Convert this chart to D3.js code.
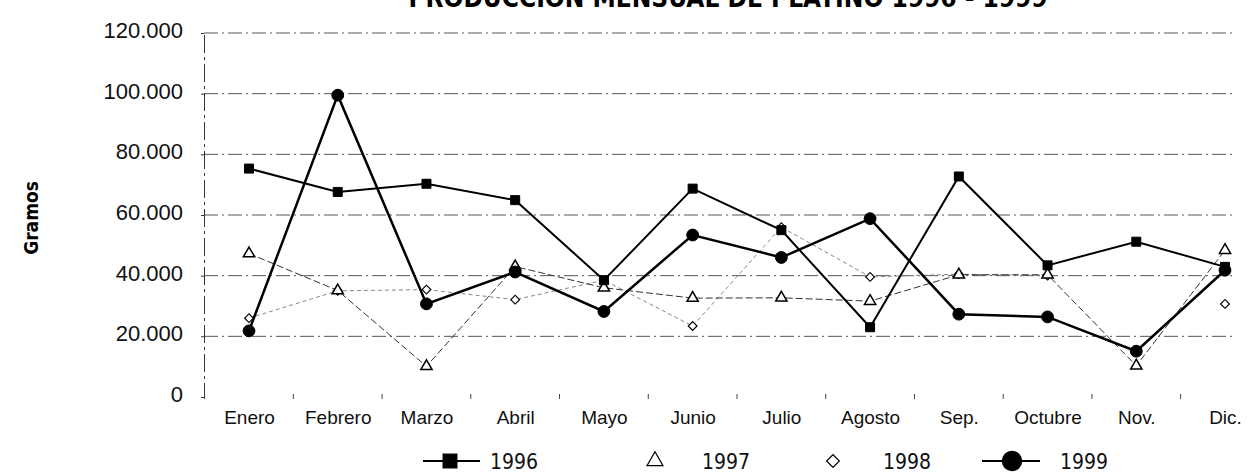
<!DOCTYPE html>
<html>
<head>
<meta charset="utf-8">
<script src="https://cdn.jsdelivr.net/npm/d3@7"></script>
<style>
  body { margin: 0; background: #fff; }
  svg { display: block; font-family: "DejaVu Sans", sans-serif; font-stretch: condensed; }
</style>
</head>
<body>
<div id="chart"></div>
<script>
// Monthly platinum production 1996-1999 (grams)
const months = ['Enero', 'Febrero', 'Marzo', 'Abril', 'Mayo', 'Junio', 'Julio', 'Agosto', 'Sep.', 'Octubre', 'Nov.', 'Dic.'];
const yTicks = [0, 20000, 40000, 60000, 80000, 100000, 120000];

const values1996 = [75300, 67600, 70300, 64900, 38500, 68700, 55000, 23000, 72700, 43400, 51200, 42900];
const values1997 = [47300, 35100, 10100, 43000, 36000, 32600, 32700, 31600, 40300, 40300, 10300, 48400];
const values1998 = [26000, 35000, 35400, 32100, 38500, 23400, 56000, 39600, 40500, 40000, null, 30700];
const values1999 = [21800, 99500, 30700, 41200, 28200, 53400, 46000, 58800, 27300, 26400, 15100, 41800];

const width = 1250, height = 475;
const margin = { top: 33, right: 25, bottom: 78, left: 204 };

const svg = d3.select('#chart')
    .append('svg')
    .attr('width', width)
    .attr('height', height);

const x = d3.scalePoint()
    .domain(months)
    .range([249, 1225]);

const y = d3.scaleLinear()
    .domain([0, 120000])
    .range([height - margin.bottom, margin.top]);

const fmt = d => d === 0 ? '0' : d3.format(',')(d).replace(/,/g, '.');

// Title (cut off at the top, as in the scan)
svg.append('text')
    .attr('x', 728)
    .attr('y', 7)
    .attr('text-anchor', 'middle')
    .attr('font-size', '26px')
    .attr('font-weight', 'bold')
    .text('PRODUCCION MENSUAL DE PLATINO 1996 - 1999');

// Gridlines (dash-dot)
svg.append('g')
    .selectAll('line')
    .data(yTicks.filter(d => d > 0))
    .enter()
    .append('line')
    .attr('x1', margin.left)
    .attr('x2', 1232)
    .attr('y1', d => y(d))
    .attr('y2', d => y(d))
    .attr('stroke', '#555')
    .attr('stroke-width', 1)
    .attr('stroke-dasharray', '14,4,2,4');

// Y axis
const yAxis = d3.axisLeft(y)
    .tickValues(yTicks)
    .tickSize(3)
    .tickPadding(18)
    .tickFormat(fmt);

const yg = svg.append('g')
    .attr('transform', `translate(${margin.left},0)`)
    .call(yAxis);
yg.select('.domain')
    .attr('stroke', '#333')
    .attr('stroke-dasharray', '18,4,3,4');
yg.selectAll('.tick line').attr('stroke', '#333');
yg.selectAll('.tick text')
    .attr('font-size', '22px')
    .attr('dy', '0.2em')
    .attr('fill', '#111');

// X axis: only small ticks between months
const xg = svg.append('g')
    .attr('transform', `translate(0,${y(0)})`)
    .call(d3.axisBottom(x).tickSize(0).tickPadding(14));
xg.select('.domain').remove();
xg.selectAll('.tick text')
    .attr('font-size', '19px')
    .attr('fill', '#111');
xg.selectAll('.sep')
    .data(months)
    .enter()
    .append('line')
    .attr('class', 'sep')
    .attr('x1', d => x(d) - x.step() / 2)
    .attr('x2', d => x(d) - x.step() / 2)
    .attr('y1', -3)
    .attr('y2', 2)
    .attr('stroke', '#444');

// Y axis title
svg.append('text')
    .attr('transform', 'translate(38,218) rotate(-90)')
    .attr('text-anchor', 'middle')
    .attr('font-size', '19px')
    .attr('font-weight', 'bold')
    .text('Gramos');

const line = d3.line()
    .defined(d => d != null)
    .x((d, i) => x(months[i]))
    .y(d => y(d));

const plot = svg.append('g');

plot.append('path')
    .attr('d', line(values1998))
    .attr('fill', 'none')
    .attr('stroke', '#888')
    .attr('stroke-width', 1)
    .attr('stroke-dasharray', '4,3');

plot.append('path')
    .attr('d', line(values1997))
    .attr('fill', 'none')
    .attr('stroke', '#333')
    .attr('stroke-width', 1)
    .attr('stroke-dasharray', '7,3');

plot.append('path')
    .attr('d', line(values1996))
    .attr('fill', 'none')
    .attr('stroke', '#000')
    .attr('stroke-width', 2);

plot.append('path')
    .attr('d', line(values1999))
    .attr('fill', 'none')
    .attr('stroke', '#000')
    .attr('stroke-width', 2.5);

const sym = {
    square: d3.symbol().type(d3.symbolSquare).size(81),
    triangle: d3.symbol().type(d3.symbolTriangle).size(55),
    diamond: d3.symbol().type(d3.symbolSquare).size(38),
    circle: d3.symbol().type(d3.symbolCircle).size(110)
};

function markers(data, shape, fill, sw, rot) {
    plot.append('g')
        .selectAll('path')
        .data(data.map((v, i) => ({ v, m: months[i] })).filter(d => d.v != null))
        .enter()
        .append('path')
        .attr('d', shape)
        .attr('transform', d => `translate(${x(d.m)},${y(d.v)}) rotate(${rot || 0})`)
        .attr('fill', fill)
        .attr('stroke', '#000')
        .attr('stroke-width', sw);
}

markers(values1998, sym.diamond, '#fff', 1.2, 45);
markers(values1997, sym.triangle, '#fff', 1.5);
markers(values1996, sym.square, '#000', 1);
markers(values1999, sym.circle, '#000', 1);

// Legend
const legendY = 461;
const legend = svg.append('g');
const legendItems = [
    { label: '1996', cx: 450, tx: 490, shape: d3.symbol().type(d3.symbolSquare).size(190), fill: '#000', line: [423, 480], rot: 0 },
    { label: '1997', cx: 655, tx: 702, shape: d3.symbol().type(d3.symbolTriangle).size(110), fill: '#fff', line: null, rot: 0 },
    { label: '1998', cx: 833, tx: 883, shape: d3.symbol().type(d3.symbolSquare).size(80), fill: '#fff', line: null, rot: 45 },
    { label: '1999', cx: 1012, tx: 1060, shape: d3.symbol().type(d3.symbolCircle).size(290), fill: '#000', line: [982, 1040], rot: 0 }
];
legendItems.forEach(it => {
    if (it.line) {
        legend.append('line')
            .attr('x1', it.line[0]).attr('x2', it.line[1])
            .attr('y1', legendY).attr('y2', legendY)
            .attr('stroke', '#000').attr('stroke-width', 2);
    }
    legend.append('path')
        .attr('d', it.shape)
        .attr('transform', `translate(${it.cx},${legendY}) rotate(${it.rot})`)
        .attr('fill', it.fill)
        .attr('stroke', '#000')
        .attr('stroke-width', 1.2);
    legend.append('text')
        .attr('x', it.tx)
        .attr('y', 469)
        .attr('font-size', '21px')
        .attr('fill', '#111')
        .text(it.label);
});
</script>
</body>
</html>
